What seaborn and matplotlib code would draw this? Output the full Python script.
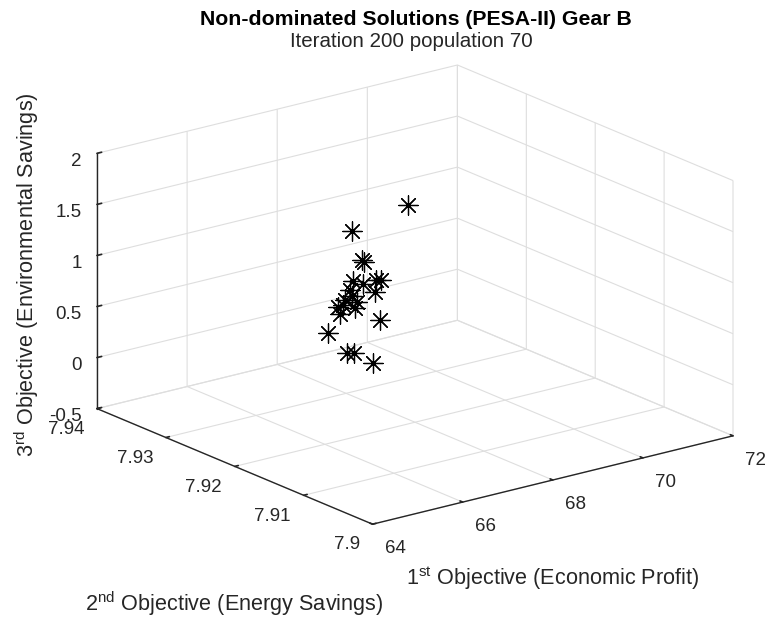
import matplotlib
matplotlib.use("Agg")
import matplotlib.pyplot as plt
import seaborn as sns
from mpl_toolkits.mplot3d import proj3d

# Non-dominated solutions of the PESA-II run (Gear B)
profit = [70.14, 66.60, 66.82, 67.79, 68.78, 66.37, 65.40, 68.68, 66.86, 65.27, 68.75,
          66.40, 67.89, 65.37, 67.01, 64.80, 69.22, 65.45, 66.49, 68.18, 67.83, 66.29]
energy = [7.935, 7.920, 7.920, 7.926, 7.930, 7.915, 7.912, 7.932, 7.922, 7.908, 7.934,
          7.918, 7.928, 7.914, 7.924, 7.910, 7.933, 7.916, 7.920, 7.930, 7.925, 7.919]
environment = [0.97, 1.52, 1.22, 0.92, 0.53, 1.21, 1.39, 0.44, 0.86, 1.41, 0.26,
               0.91, 0.40, 1.08, 0.64, 1.19, 0.00, 0.76, 0.34, -0.12, -0.04, 0.91]

x_ticks = [64, 66, 68, 70, 72]
y_ticks = [7.90, 7.91, 7.92, 7.93, 7.94]
z_ticks = [-0.5, 0, 0.5, 1, 1.5, 2]
x_tick_labels = ["64", "66", "68", "70", "72"]
y_tick_labels = ["7.9", "7.91", "7.92", "7.93", "7.94"]
z_tick_labels = ["-0.5", "0", "0.5", "1", "1.5", "2"]

title = "Non-dominated Solutions (PESA-II) Gear B"
subtitle = "Iteration 200 population 70"
x_label = r"1$^{\mathrm{st}}$ Objective (Economic Profit)"
y_label = r"2$^{\mathrm{nd}}$ Objective (Energy Savings)"
z_label = r"3$^{\mathrm{rd}}$ Objective (Environmental Savings)"

INK = "#262626"
GRID = "#dedede"
TICK_FS = 13.5
LABEL_FS = 15.6

sns.set_theme(style="white", rc={"grid.color": GRID, "grid.linewidth": 0.8})
plt.rcParams["font.family"] = ["Liberation Sans", "DejaVu Sans"]
plt.rcParams["mathtext.fontset"] = "custom"
plt.rcParams["mathtext.rm"] = "Liberation Sans"
plt.rcParams["mathtext.it"] = "Liberation Sans:italic"
plt.rcParams["mathtext.bf"] = "Liberation Sans:bold"

W, H = 772, 617
fig = plt.figure(figsize=(W / 100, H / 100), dpi=100)
fig.patch.set_facecolor("white")


def frac_box(x0, y0, side):
    """Square axes box given in pixels (origin bottom-left)."""
    return [x0 / W, y0 / H, side / W, side / H]


ax = fig.add_axes(frac_box(60, 20, 600), projection="3d")
ax.set_proj_type("ortho")
ax.view_init(elev=18.7, azim=-127.4)
ax.set_box_aspect((1, 1, 0.594))

ax.scatter(profit, energy, environment, marker=(8, 2, 0), s=195, c="black",
           linewidths=0.9, depthshade=False)

lim_kw = {}
try:
    ax.set_xlim(64, 72, view_margin=0)
    lim_kw = {"view_margin": 0}
except TypeError:
    ax.set_xlim(64, 72)
ax.set_ylim(7.90, 7.94, **lim_kw)
ax.set_zlim(-0.5, 2, **lim_kw)

ax.set_xticks(x_ticks, x_tick_labels, ha="left")
ax.set_yticks(y_ticks, y_tick_labels, ha="right")
ax.set_zticks(z_ticks, z_tick_labels, ha="right")

for axis in (ax.xaxis, ax.yaxis, ax.zaxis):
    axis.set_pane_color((1, 1, 1, 0))
    axis.pane.set_edgecolor((1, 1, 1, 0))
    axis._axinfo["grid"].update(color=GRID, linewidth=0.8, linestyle="-")
    axis._axinfo["axisline"]["color"] = INK
    axis._axinfo["axisline"]["linewidth"] = 1.0
    axis._axinfo["tick"]["inward_factor"] = 0.0
    axis._axinfo["tick"]["outward_factor"] = 0.12
    axis.line.set_color(INK)
    axis.line.set_linewidth(1.0)
ax.zaxis._axinfo["tick"]["outward_factor"] = 0.16

ax.tick_params(axis="both", labelsize=TICK_FS, labelcolor=INK, colors=INK, width=0.8)
ax.tick_params(axis="x", pad=3)
ax.tick_params(axis="y", pad=1)
ax.tick_params(axis="z", pad=-2)
ax.grid(True)

# Fit the projected box into its place on the canvas
fig.canvas.draw()


def to_px(x, y, z):
    px, py, _ = proj3d.proj_transform(x, y, z, ax.M)
    return ax.transData.transform((px, py))


left = to_px(64, 7.94, -0.5)
right = to_px(72, 7.90, -0.5)
top = to_px(72, 7.94, 2)
bbox = ax.get_position().transformed(fig.transFigure)
k = (733 - 97) / (right[0] - left[0])
new_x0 = 97 - (left[0] - bbox.x0) * k
new_y0 = (H - 65) - (top[1] - bbox.y0) * k
ax.set_position(frac_box(new_x0, new_y0, bbox.width * k))

fig.text(416 / W, 1 - 25 / H, title, ha="center", va="baseline",
         fontsize=15.3, fontweight="bold", color="black")
fig.text(411 / W, 1 - 47 / H, subtitle, ha="center", va="baseline",
         fontsize=14.8, color=INK)
fig.text(553 / W, 1 - 585 / H, x_label, ha="center", va="baseline",
         fontsize=LABEL_FS, color=INK)
fig.text(234 / W, 1 - 611 / H, y_label, ha="center", va="baseline",
         fontsize=LABEL_FS, color=INK)
fig.text(27 / W, 1 - 275 / H, z_label, ha="center", va="center",
         rotation=90, fontsize=LABEL_FS, color=INK)

fig.savefig("out.png", dpi=100, facecolor="white")
